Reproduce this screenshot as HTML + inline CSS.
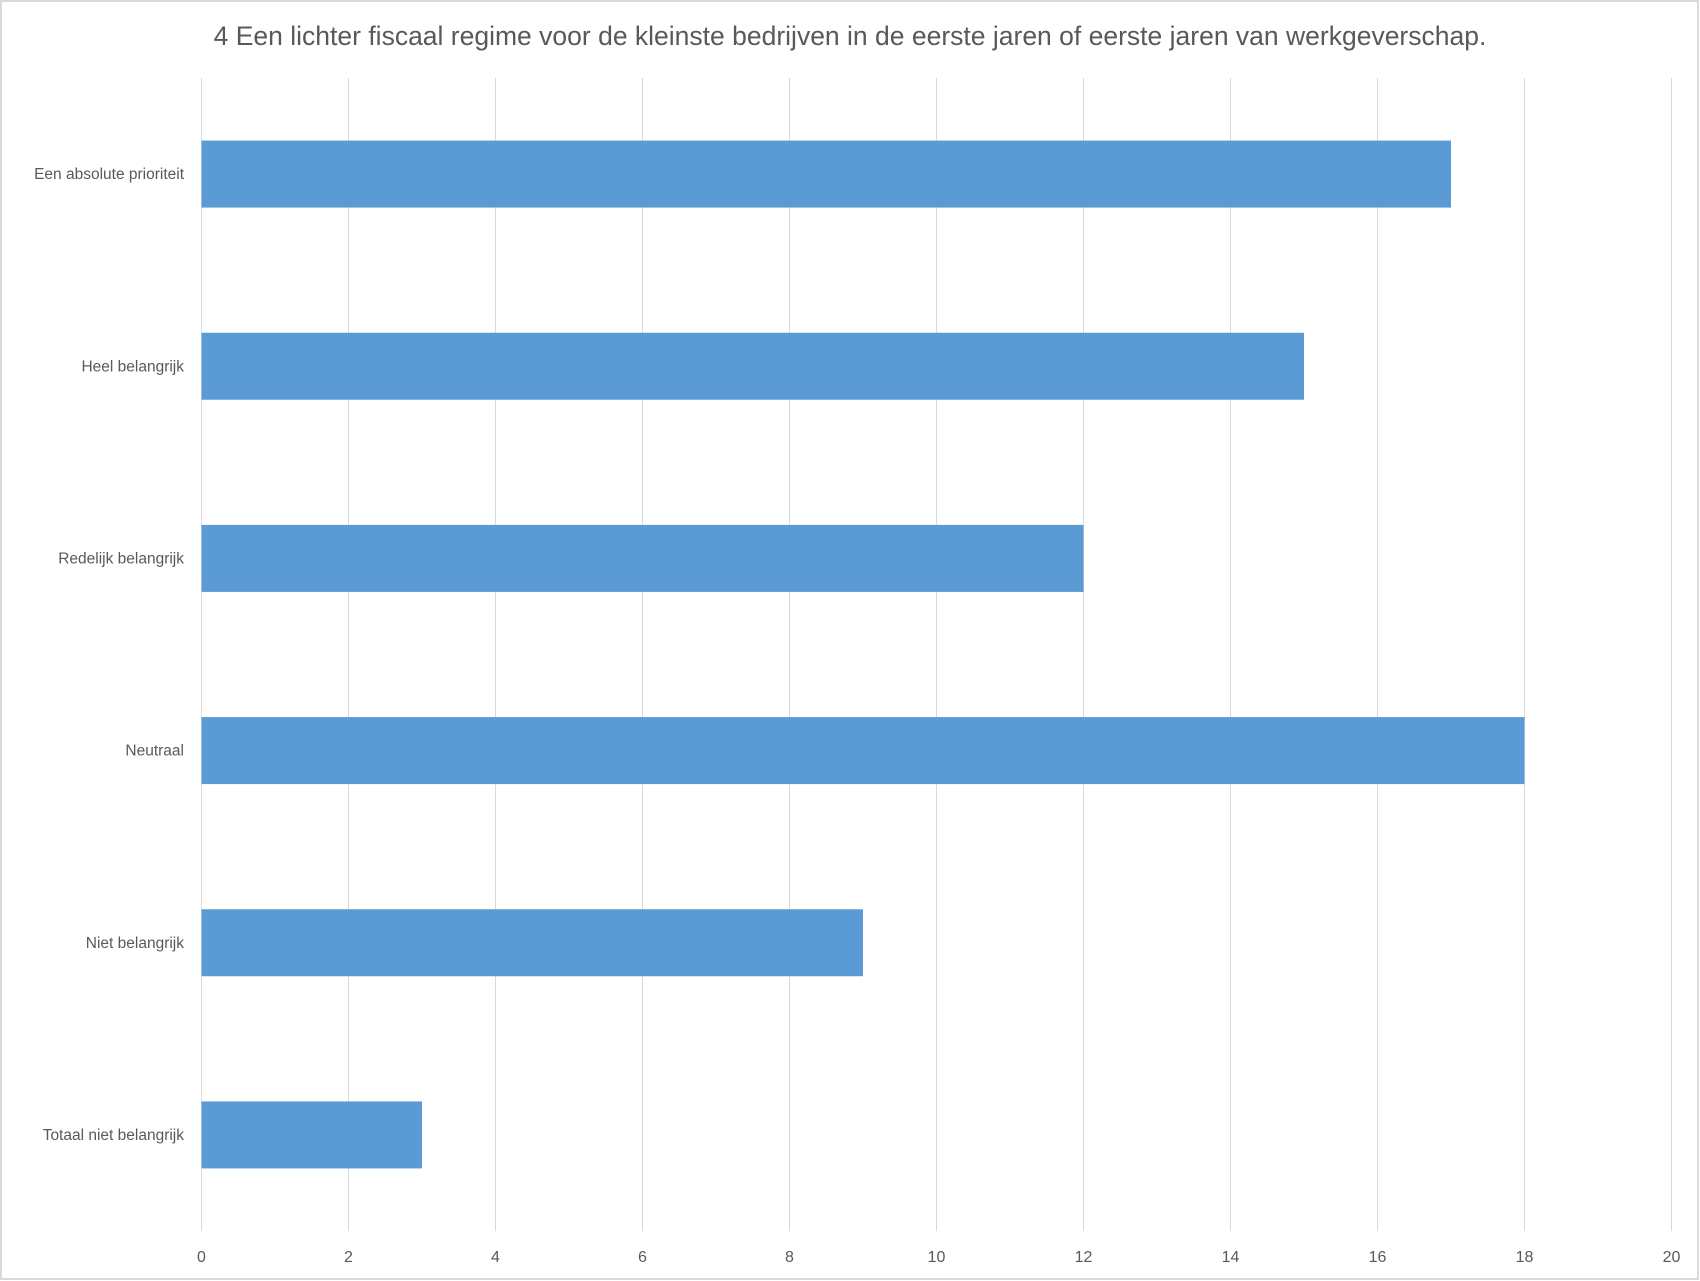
<!DOCTYPE html>
<html><head><meta charset="utf-8"><style>
html,body{margin:0;padding:0;background:#fff}
svg{display:block}
text{font-family:"Liberation Sans",sans-serif;fill:#595959}
</style></head><body>
<svg id="chart" width="1700" height="1281" viewBox="0 0 1700 1281" xmlns="http://www.w3.org/2000/svg">
<rect x="1" y="1" width="1697" height="1278" fill="#fff" stroke="#d9d9d9" stroke-width="2"/>
<text x="850" y="45" text-anchor="middle" font-size="26.5">4 Een lichter fiscaal regime voor de kleinste bedrijven in de eerste jaren of eerste jaren van werkgeverschap.</text>
<g id="grid"></g><g id="bars"></g><g id="ylabels"></g><g id="xlabels"></g>
</svg>
<script>
const categories=["Een absolute prioriteit","Heel belangrijk","Redelijk belangrijk","Neutraal","Niet belangrijk","Totaal niet belangrijk"];
const values=[17,15,12,18,9,3];
const ticks=[0,2,4,6,8,10,12,14,16,18,20];
const NS="http://www.w3.org/2000/svg";
const x0=201.5,x1=1671.5,plotTop=78,plotBottom=1231,xmax=20;
const xs=v=>x0+(v/xmax)*(x1-x0);
const band=(plotBottom-plotTop)/categories.length;
function mk(t,a,p){const e=document.createElementNS(NS,t);for(const k in a)e.setAttribute(k,a[k]);p.appendChild(e);return e;}
const g=document.getElementById('grid'),b=document.getElementById('bars'),yl=document.getElementById('ylabels'),xl=document.getElementById('xlabels');
ticks.forEach(t=>{
 const l=mk('line',{x1:xs(t),x2:xs(t),y1:plotTop,y2:plotBottom,stroke:'#d9d9d9','stroke-width':1},g);
 
 
 const tx=mk('text',{x:xs(t),y:1262,'text-anchor':'middle','font-size':16},xl);
 tx.textContent=t;
 
 
});
categories.forEach((c,i)=>{
 const cy=plotTop+band*(i+0.5),h=67;
 const r=mk('rect',{x:xs(0),y:cy-h/2,width:xs(values[i])-xs(0),height:h,fill:'#5b9bd5'},b);
 
 
 const tx=mk('text',{x:184,y:cy+5,'text-anchor':'end','font-size':15.5},yl);
 tx.textContent=c;
 
 
});
</script>
</body></html>
